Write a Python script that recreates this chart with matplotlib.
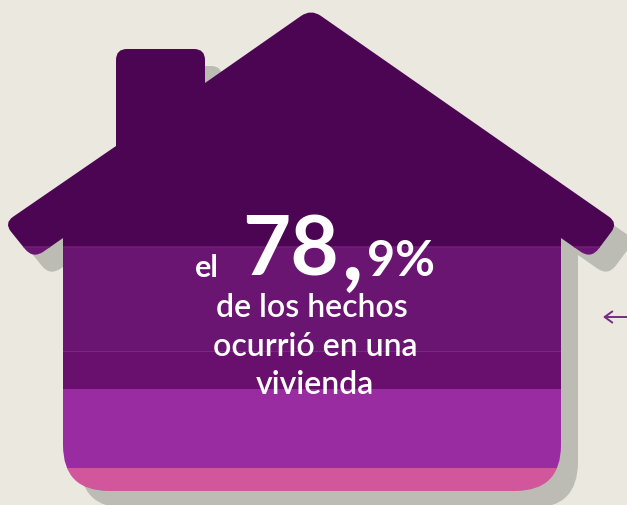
import matplotlib
matplotlib.use('Agg')
import matplotlib.pyplot as plt
import numpy as np
from matplotlib.path import Path
from matplotlib.patches import PathPatch

W, H = 627, 505

# bands of the house, top to bottom (height in px of the picture)
band_heights = [246, 105, 38, 79, 23]
band_colors = ['#4B0553', '#6B1573', '#69106F', '#982CA0', '#D2569B']

# outline of the house: x, y, corner radius
outline = [
    (311, 9, 12), (618, 223, 11), (591, 259, 13), (561, 238, 0),
    (561, 491, 46), (63, 491, 46), (63, 238, 0), (33, 259, 13),
    (4, 223, 11), (116, 146, 0), (116, 49, 11), (205, 49, 11), (205, 83, 0),
]
shadow_off = 17


def rounded(points, dx=0, dy=0):
    verts, codes = [], []
    n = len(points)
    for i in range(n):
        x, y, r = points[i]
        p = np.array([x + dx, y + dy], float)
        a = np.array(points[i - 1][:2], float) + [dx, dy]
        b = np.array(points[(i + 1) % n][:2], float) + [dx, dy]
        u = (a - p) / np.hypot(*(a - p))
        v = (b - p) / np.hypot(*(b - p))
        verts += [p + u * r, p, p + v * r]
        codes += [Path.LINETO, Path.CURVE3, Path.CURVE3]
    codes[0] = Path.MOVETO
    verts.append(verts[0])
    codes.append(Path.CLOSEPOLY)
    return Path(verts, codes)


fig = plt.figure(figsize=(W / 100, H / 100), dpi=100, facecolor='#EBE9DF')
ax = fig.add_axes([0, 0, 1, 1])
ax.set_xlim(0, W)
ax.set_ylim(H, 0)
ax.axis('off')

ax.add_patch(PathPatch(rounded(outline, shadow_off, shadow_off), fc='#BCBCB4', ec='none'))

clip = PathPatch(rounded(outline), fc='none', ec='none')
ax.add_patch(clip)
top = 0
for h, c in zip(band_heights, band_colors):
    bars = ax.bar(W / 2, h, width=W, bottom=top, color=c, linewidth=0)
    bars[0].set_clip_path(clip)
    top += h

# faint seams between the dark bands
for y, c in [(246.5, '#701E78'), (351, '#7A2A82')]:
    line, = ax.plot([0, W], [y, y], color=c, lw=0.7)
    line.set_clip_path(clip)

font = 'Lato'
ax.text(195, 277, 'el', color='white', fontsize=22, family=font, weight='bold', ha='left', va='baseline')
ax.text(242, 275, '78', color='white', fontsize=60, family=font, weight='bold', ha='left', va='baseline')
ax.text(342, 280, ',', color='white', fontsize=66, family=font, weight='bold', ha='left', va='baseline')
ax.text(367, 276, '9%', color='white', fontsize=35, family=font, weight='bold', ha='left', va='baseline')
ax.text(312, 317, 'de los hechos', color='white', fontsize=23, family=font, weight='semibold', ha='center', va='baseline')
ax.text(315, 356, 'ocurrió en una', color='white', fontsize=23, family=font, weight='semibold', ha='center', va='baseline')
ax.text(315, 394, 'vivienda', color='white', fontsize=23, family=font, weight='semibold', ha='center', va='baseline')

ax.annotate('', xy=(603, 317), xytext=(632, 317), annotation_clip=False,
            arrowprops=dict(arrowstyle='->,head_length=0.55,head_width=0.4', color='#7A2A82', lw=1.4,
                            shrinkA=0, shrinkB=0))

fig.savefig('out.png', dpi=100, facecolor=fig.get_facecolor())
